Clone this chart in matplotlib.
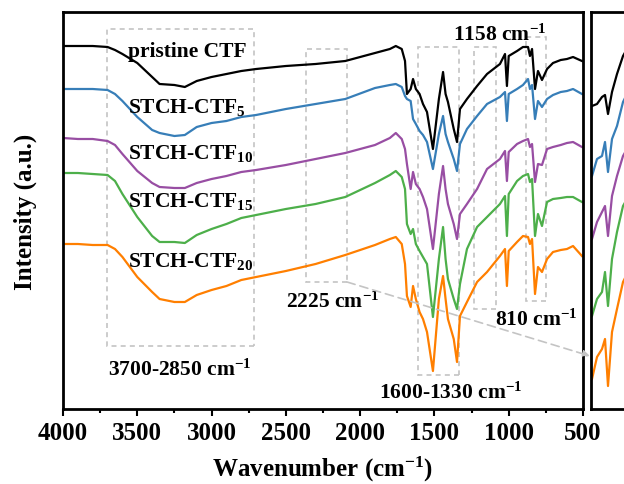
import matplotlib
matplotlib.use('Agg')
import matplotlib.pyplot as plt
from matplotlib.patches import Rectangle
from matplotlib.ticker import MultipleLocator
import numpy as np

# wavenumber grid (cm-1) and intensities (a.u.)
wavenumber = [4000, 3900, 3800, 3700, 3650, 3600, 3500, 3400, 3350, 3250,
              3180, 3100, 3000, 2900, 2800, 2700, 2500, 2300, 2100, 1900,
              1800, 1760, 1720, 1698, 1685, 1660, 1644, 1625, 1600, 1577,
              1550, 1510, 1470, 1442, 1425, 1409, 1370, 1348, 1328, 1281,
              1213, 1146, 1059, 1025, 1012, 1000, 944, 904, 870, 857,
              843, 823, 803, 776, 742, 702, 650, 608, 567, 507]

pristine = [363, 363, 363, 362, 359, 355, 346, 332, 325, 324,
            322, 328, 332, 335, 338, 340, 343, 345, 348, 356,
            360, 363, 360, 348, 315, 320, 330, 320, 315, 305,
            297, 260, 310, 337, 315, 307, 280, 267, 300, 310,
            323, 335, 345, 355, 323, 353, 358, 362, 362, 353,
            360, 320, 338, 329, 340, 346, 349, 350, 352, 348]
ctf5 = [320, 320, 320, 319, 315, 308, 292, 279, 276, 273,
        274, 282, 286, 288, 292, 294, 300, 305, 310, 321,
        324, 325, 322, 313, 310, 308, 290, 285, 278, 274,
        267, 240, 275, 293, 275, 267, 250, 238, 265, 280,
        293, 305, 312, 317, 288, 315, 320, 324, 330, 320,
        324, 290, 308, 302, 310, 314, 317, 318, 320, 315]
ctf10 = [271, 270, 270, 268, 264, 255, 238, 226, 222, 221,
         221, 226, 230, 233, 237, 239, 244, 250, 256, 264,
         271, 276, 270, 260, 245, 220, 237, 225, 220, 212,
         200, 160, 215, 243, 220, 205, 185, 170, 195, 205,
         220, 240, 250, 258, 228, 257, 265, 268, 270, 262,
         265, 227, 245, 244, 260, 262, 264, 266, 267, 262]
ctf15 = [236, 236, 235, 234, 228, 215, 192, 173, 167, 167,
         166, 174, 180, 185, 191, 194, 200, 205, 212, 226,
         234, 238, 232, 220, 185, 175, 180, 165, 158, 152,
         145, 92, 150, 182, 150, 130, 110, 100, 125, 160,
         182, 192, 205, 213, 173, 215, 228, 233, 235, 227,
         230, 173, 195, 183, 207, 210, 211, 212, 212, 207]
ctf20 = [165, 165, 164, 164, 160, 152, 132, 117, 110, 107,
         107, 114, 119, 123, 129, 132, 138, 145, 154, 164,
         170, 172, 165, 145, 113, 102, 123, 110, 97, 90,
         77, 38, 110, 133, 110, 90, 70, 47, 93, 107,
         127, 137, 153, 160, 123, 158, 167, 173, 172, 165,
         170, 115, 142, 137, 150, 157, 159, 160, 163, 153]

# right-hand (cut off) panel
inset_x = [1, 6, 11, 14, 17, 21, 26, 32, 36]
inset_pristine = [303, 305, 312, 314, 295, 317, 335, 353, 360]
inset_ctf5 = [233, 250, 253, 267, 237, 270, 283, 307, 315]
inset_ctf10 = [170, 187, 197, 203, 173, 213, 233, 253, 260]
inset_ctf15 = [93, 110, 117, 137, 103, 150, 177, 203, 210]
inset_ctf20 = [30, 52, 60, 70, 23, 77, 100, 127, 135]

colors = ['black', '#377eb8', '#984ea3', '#4daf4a', '#ff7f00']

plt.rcParams['font.family'] = 'Liberation Serif'
plt.rcParams['font.weight'] = 'bold'
plt.rcParams['mathtext.fontset'] = 'custom'
plt.rcParams['mathtext.rm'] = 'Liberation Serif:bold'
plt.rcParams['mathtext.bf'] = 'Liberation Serif:bold'
plt.rcParams['mathtext.default'] = 'rm'

fig = plt.figure(figsize=(6.24, 4.85), dpi=100)
W, H = 624.0, 485.0
bottom = (H - 410) / H
height = (410 - 13) / H
ax = fig.add_axes([63 / W, bottom, (583 - 63) / W, height])
ax2 = fig.add_axes([591 / W, bottom, 0.3, height])

series = [pristine, ctf5, ctf10, ctf15, ctf20]
for s, c in zip(series, colors):
    ax.plot(wavenumber, s, color=c, lw=1.6)

ax.set_xlim(4000, 500)
ax.set_ylim(0, 397)
ax.xaxis.set_major_locator(MultipleLocator(500))
ax.xaxis.set_minor_locator(MultipleLocator(250))
ax.tick_params(axis='x', which='major', direction='out', length=5, width=1.5,
               labelsize=18, pad=4, top=False)
ax.tick_params(axis='x', which='minor', direction='out', length=3, width=1.5, top=False)
ax.tick_params(axis='y', left=False, labelleft=False)
for sp in ax.spines.values():
    sp.set_linewidth(2)
ax.set_xlabel('Wavenumber (cm$^{-1}$)', fontsize=18, fontweight='bold', labelpad=7)
ax.set_ylabel('Intensity (a.u.)', fontsize=18, fontweight='bold', labelpad=19)

# dashed boxes
box_kw = dict(fill=False, ec='#c4c4c4', lw=1.2, ls=(0, (3, 2.5)), zorder=0)
for x0, x1, y0, y1 in [(3704, 2714, 63, 380), (2365, 2088, 127, 360),
                       (1611, 1335, 34, 362), (1234, 1086, 100, 362),
                       (884, 749, 108, 372)]:
    ax.add_patch(Rectangle((x1, y0), x0 - x1, y1 - y0, **box_kw))

# labels
lab_kw = dict(fontsize=15.5, fontweight='bold', va='center')
ax.text(3562, 358, 'pristine CTF', ha='left', **lab_kw)
ax.text(3562, 303, 'STCH-CTF$_{5}$', ha='left', **lab_kw)
ax.text(3562, 256, 'STCH-CTF$_{10}$', ha='left', **lab_kw)
ax.text(3562, 208, 'STCH-CTF$_{15}$', ha='left', **lab_kw)
ax.text(3562, 148, 'STCH-CTF$_{20}$', ha='left', **lab_kw)
ax.text(3212, 40, '3700-2850 cm$^{-1}$', ha='center', **lab_kw)
ax.text(2183, 108, '2225 cm$^{-1}$', ha='center', **lab_kw)
ax.text(1388, 17, '1600-1330 cm$^{-1}$', ha='center', **lab_kw)
ax.text(817, 90, '810 cm$^{-1}$', ha='center', **lab_kw)
ax.text(1059, 375, '1158 cm$^{-1}$', ha='center', **lab_kw)

ax.annotate('', xy=(453, 53), xytext=(2088, 127), annotation_clip=False,
            arrowprops=dict(arrowstyle='-|>', color='#c4c4c4', lw=1.2,
                            ls=(0, (5, 3)), shrinkA=0, shrinkB=0,
                            mutation_scale=10))

# cut-off right panel
inset = [inset_pristine, inset_ctf5, inset_ctf10, inset_ctf15, inset_ctf20]
for s, c in zip(inset, colors):
    ax2.plot(inset_x, s, color=c, lw=1.6)
ax2.set_xlim(0, 0.3 * W)
ax2.set_ylim(0, 397)
ax2.set_xticks([])
ax2.set_yticks([])
for sp in ax2.spines.values():
    sp.set_linewidth(2)

fig.savefig('out.png', dpi=100)
